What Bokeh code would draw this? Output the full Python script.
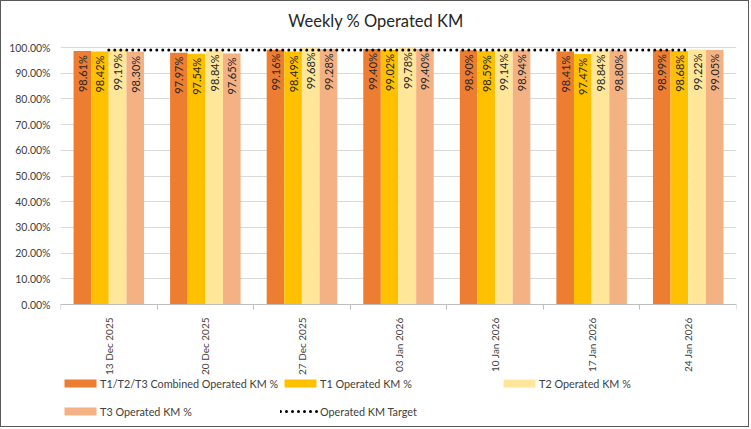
from bokeh.plotting import figure
from bokeh.models import (ColumnDataSource, FixedTicker, PrintfTickFormatter, Label,
                          LabelSet, Legend, LegendItem, Range1d)
from bokeh.core.properties import value
from bokeh.embed import file_html
from bokeh.resources import INLINE
import math

weeks = ["13 Dec 2025", "20 Dec 2025", "27 Dec 2025", "03 Jan 2026",
         "10 Jan 2026", "17 Jan 2026", "24 Jan 2026"]
combined = [98.61, 97.97, 99.16, 99.40, 98.90, 98.41, 98.99]
t1 = [98.42, 97.54, 98.49, 99.02, 98.59, 97.47, 98.68]
t2 = [99.19, 98.84, 99.68, 99.78, 99.14, 98.84, 99.22]
t3 = [98.30, 97.65, 99.28, 99.40, 98.94, 98.80, 99.05]
target = [99.0] * len(weeks)
y_ticks = [0, 10, 20, 30, 40, 50, 60, 70, 80, 90, 100]

series_names = ["T1/T2/T3 Combined Operated KM %", "T1 Operated KM %",
                "T2 Operated KM %", "T3 Operated KM %"]
series_vals = [combined, t1, t2, t3]
colors = ["#ED7D31", "#FFC000", "#FFE699", "#F4B183"]
offsets = [-0.274, -0.092, 0.092, 0.274]
bar_w = 0.182

FONT = "Lato"
W, H = 749, 427
# layout: frame spans full canvas height; value axis 0..100 maps to canvas y 46..303
PX_PER_UNIT = 257 / 100.0
Y_TOP = 100 + 46 / PX_PER_UNIT
Y_BOT = -(H - 303) / PX_PER_UNIT

p = figure(width=W, height=H, output_backend="svg", toolbar_location=None,
           x_range=Range1d(0, len(weeks)), y_range=Range1d(Y_BOT, Y_TOP),
           min_border_left=59, min_border_right=14, min_border_top=0,
           min_border_bottom=0)
p.styles = {"border": "1px solid #595959"}
p.outline_line_color = None
p.background_fill_color = "white"
p.border_fill_color = "white"

centers = [i + 0.5 for i in range(len(weeks))]

renderers = []
for name, vals, col, off in zip(series_names, series_vals, colors, offsets):
    xs = [c + off for c in centers]
    src = ColumnDataSource(dict(x=xs, top=vals,
                                lbl=["%.2f%%" % v for v in vals]))
    r = p.vbar(x="x", top="top", width=bar_w, bottom=0, source=src,
               fill_color=col, line_color=None)
    renderers.append(r)
    labels = LabelSet(x="x", y="top", text="lbl", source=src, angle=math.pi / 2,
                      text_align="right", text_baseline="middle",
                      y_offset=-4, text_font=value(FONT), text_font_size="11px",
                      text_color="#262626")
    p.add_layout(labels)

tsrc = ColumnDataSource(dict(x=centers, y=target))
tr = p.line(x="x", y="y", source=tsrc, line_color="black", line_width=3,
            line_dash="0 6", line_cap="round")

# axes
p.xaxis.fixed_location = 0
p.xaxis.ticker = FixedTicker(ticks=centers, minor_ticks=list(range(len(weeks) + 1)))
p.xaxis.major_label_overrides = {c: w for c, w in zip(centers, weeks)}
p.xaxis.major_label_orientation = math.pi / 2
p.xaxis.major_tick_line_color = None
p.xaxis.major_tick_out = 0
p.xaxis.major_tick_in = 0
p.xaxis.minor_tick_line_color = "#BFBFBF"
p.xaxis.minor_tick_out = 5
p.xaxis.minor_tick_in = 0
p.xaxis.axis_line_color = "#BFBFBF"
p.xaxis.major_label_text_font = FONT
p.xaxis.major_label_text_font_size = "10px"
p.xaxis.major_label_text_color = "#404040"
p.xaxis.major_label_standoff = 8

p.yaxis.ticker = FixedTicker(ticks=y_ticks)
p.yaxis.formatter = PrintfTickFormatter(format="%.2f%%")
p.yaxis.axis_line_color = None
p.yaxis.major_tick_line_color = None
p.yaxis.major_tick_out = 0
p.yaxis.major_tick_in = 0
p.yaxis.minor_tick_line_color = None
p.yaxis.major_label_text_font = FONT
p.yaxis.major_label_text_font_size = "10.5px"
p.yaxis.major_label_text_color = "#404040"
p.yaxis.major_label_standoff = 10

p.xgrid.grid_line_color = None
p.ygrid.ticker = FixedTicker(ticks=y_ticks)
p.ygrid.grid_line_color = "#D9D9D9"

# title (positioned in data space above the value area)
title_x = (375.5 - 60) / 676 * len(weeks)
title_y = 100 + (47 - 20) / PX_PER_UNIT
title = Label(x=title_x, y=title_y, text="Weekly % Operated KM",
              text_align="center", text_baseline="middle",
              text_font=FONT, text_font_size="16.5px", text_color="#262626")
p.add_layout(title)

ROW_H, ROW_GAP = 15, 13
LEG_TOP_PX = 374.5  # canvas y of first legend row top

def make_legend(items, x):
    n = len(items)
    leg_h = n * ROW_H + (n - 1) * ROW_GAP
    loc = (x, H - (LEG_TOP_PX + leg_h))  # location is the legend's bottom-left
    lg = Legend(items=items, location=loc, orientation="vertical",
                glyph_width=40, glyph_height=10, label_standoff=0,
                label_height=ROW_H, spacing=ROW_GAP, padding=0, margin=0,
                border_line_color=None, background_fill_alpha=0,
                label_text_font=FONT, label_text_font_size="10.8px",
                label_text_color="#404040", label_text_baseline="middle")
    return lg

lg1 = make_legend([LegendItem(label=series_names[0], renderers=[renderers[0]]),
                   LegendItem(label=series_names[3], renderers=[renderers[3]])], 0)
lg2 = make_legend([LegendItem(label=series_names[1], renderers=[renderers[1]]),
                   LegendItem(label="Operated KM Target", renderers=[tr])], 220)
lg3 = make_legend([LegendItem(label=series_names[2], renderers=[renderers[2]])], 439)
for lg in (lg1, lg2, lg3):
    p.add_layout(lg)

open("out.html", "w").write(file_html(p, INLINE))
